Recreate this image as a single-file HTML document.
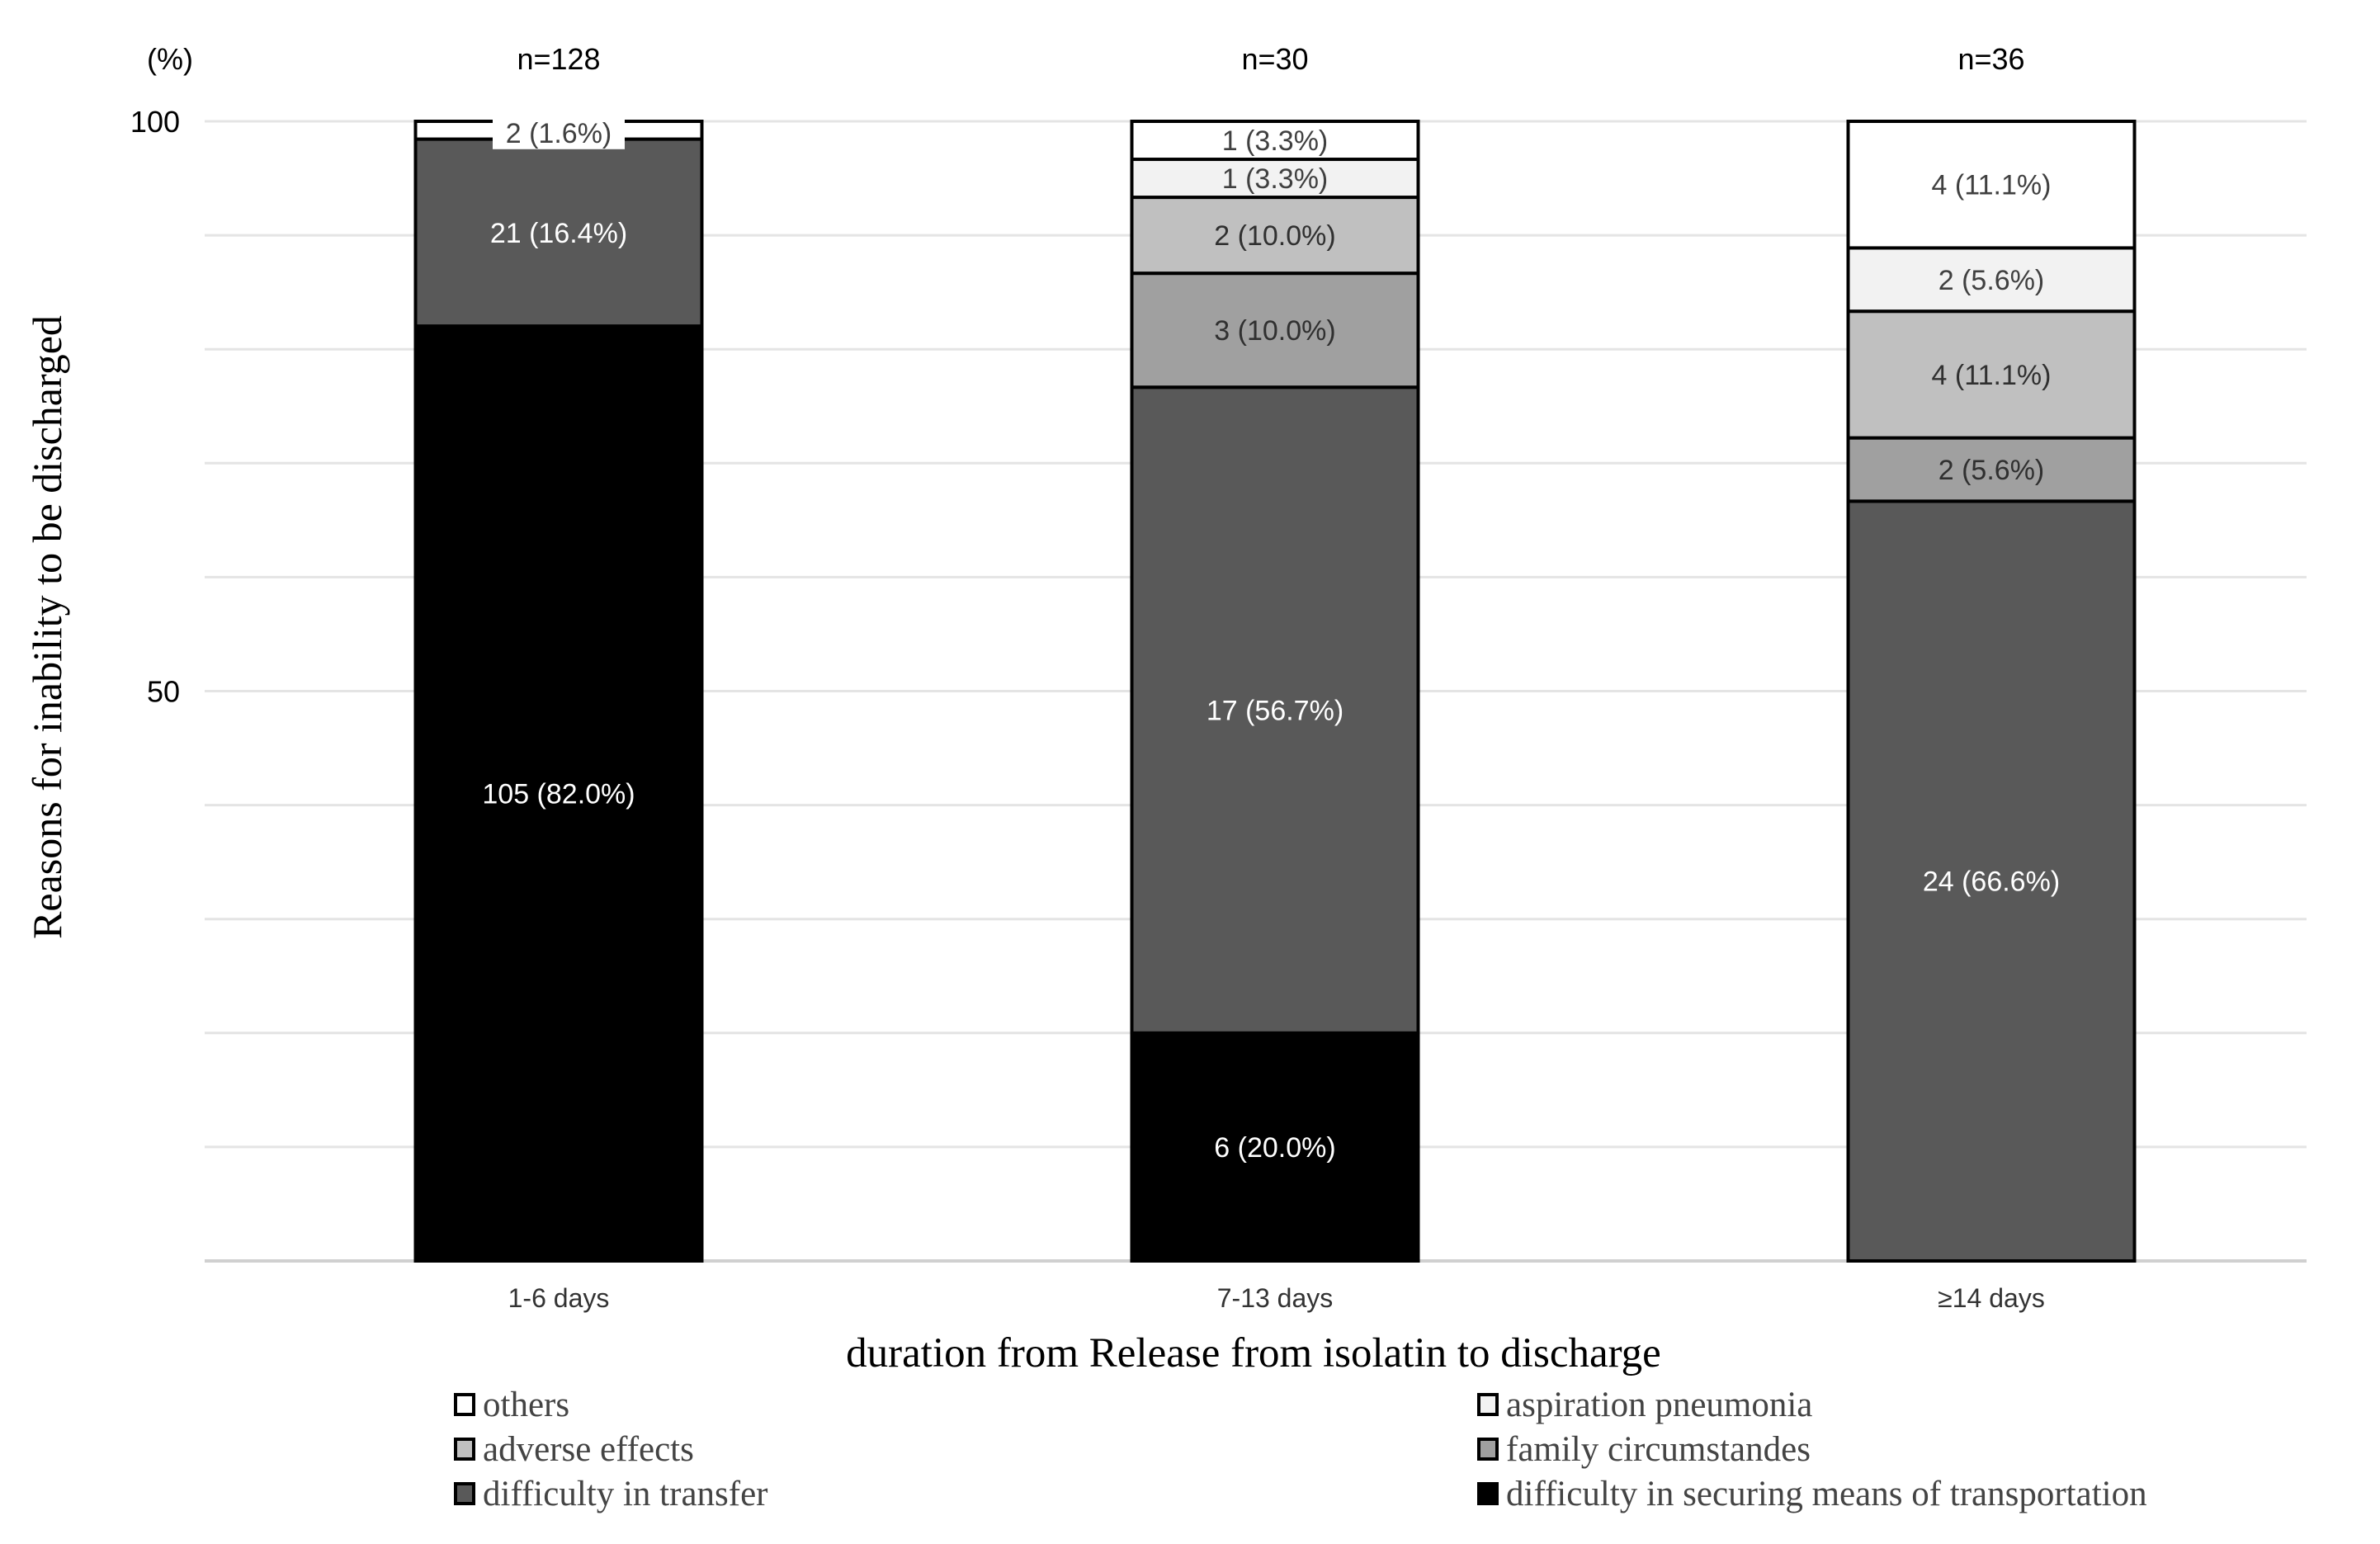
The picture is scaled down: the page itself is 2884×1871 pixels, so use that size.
<!DOCTYPE html>
<html><head><meta charset="utf-8"><style>
html,body{margin:0;padding:0;background:#fff;}
svg{display:block;}
</style></head><body>
<svg id="chart" width="2884" height="1871" xmlns="http://www.w3.org/2000/svg">
<text x="206" y="84" font-family="Liberation Sans, sans-serif" font-size="36" fill="#000" text-anchor="middle">(%)</text>
<text transform="translate(74,760) rotate(-90)" font-family="Liberation Serif, serif" font-size="50" fill="#000" text-anchor="middle">Reasons for inability to be discharged</text>
<text x="1519" y="1656" font-family="Liberation Serif, serif" font-size="51" fill="#000" text-anchor="middle">duration from Release from isolatin to discharge</text>
<g id="grid"></g><g id="bars"></g><g id="legend"></g>
</svg>
<script>
const categories = ["1-6 days", "7-13 days", "≥14 days"];
const totals = [128, 30, 36];
const seriesNames = ["difficulty in securing means of transportation","difficulty in transfer","family circumstandes","adverse effects","aspiration pneumonia","others"];
const transport = [105, 6, 0];
const transfer = [21, 17, 24];
const family = [0, 3, 2];
const adverse = [0, 2, 4];
const aspiration = [0, 1, 2];
const others = [2, 1, 4];
const transportLbl = ["105 (82.0%)", "6 (20.0%)", ""];
const transferLbl = ["21 (16.4%)", "17 (56.7%)", "24 (66.6%)"];
const familyLbl = ["", "3 (10.0%)", "2 (5.6%)"];
const adverseLbl = ["", "2 (10.0%)", "4 (11.1%)"];
const aspirationLbl = ["", "1 (3.3%)", "2 (5.6%)"];
const othersLbl = ["2 (1.6%)", "1 (3.3%)", "4 (11.1%)"];
const yTicks = [0, 50, 100];

const NS = "http://www.w3.org/2000/svg";
const series = [transport, transfer, family, adverse, aspiration, others];
const labels = [transportLbl, transferLbl, familyLbl, adverseLbl, aspirationLbl, othersLbl];
const fills = ["#000000", "#595959", "#a0a0a0", "#c0c0c0", "#f2f2f2", "#ffffff"];
const textFill = ["#fff", "#fff", "#303030", "#303030", "#404040", "#404040"];
const plotL = 248, plotR = 2795, yTop = 147, yBot = 1528;
const y = v => yBot - (v / 100) * (yBot - yTop);
const firstC = 677, step = 868;
const xc = i => firstC + step * i;
const barW = 347;

function mk(tag, attrs, parent) {
  const e = document.createElementNS(NS, tag);
  for (const k in attrs) e.setAttribute(k, attrs[k]);
  parent.appendChild(e);
  return e;
}
const grid = document.getElementById("grid");
for (let v = 0; v <= 100; v += 10) {
  const l = mk("line", {x1: plotL, x2: plotR, y1: y(v), y2: y(v), stroke: v === 0 ? "#d0d0d0" : "#e4e4e4", "stroke-width": v === 0 ? 4 : 3}, grid);
  
  
}
yTicks.forEach(t => {
  if (t === 0) return;
  const tx = mk("text", {x: 218, y: y(t) + 13, "text-anchor": "end", "font-family": "Liberation Sans, sans-serif", "font-size": 36, fill: "#000"}, grid);
  tx.textContent = t;
  
  
});
const bars = document.getElementById("bars");
categories.forEach((c, i) => {
  const g = mk("g", {}, bars);
  
  
  let cum = 0;
  const lbls = [];
  series.forEach((s, k) => {
    const v = s[i] / totals[i] * 100;
    if (s[i] > 0) {
      const r = mk("rect", {x: xc(i) - barW / 2, y: y(cum + v), width: barW, height: y(cum) - y(cum + v), fill: fills[k], stroke: "#000", "stroke-width": 4}, g);
      
      
      lbls.push([k, y(cum + v / 2)]);
    }
    cum += v;
  });
  lbls.forEach(([k, ym]) => {
    const txt = labels[k][i];
    if (!txt) return;
    if (i === 0 && k === 5) {
      ym += 3;
      const bg = mk("rect", {x: xc(i) - 80, y: ym - 20, width: 160, height: 40, fill: "#fff"}, g);
      
      
    }
    const t = mk("text", {x: xc(i), y: ym + 12, "text-anchor": "middle", "font-family": "Liberation Sans, sans-serif", "font-size": 34, fill: textFill[k]}, g);
    t.textContent = txt;
    
    
  });
  const n = mk("text", {x: xc(i), y: 84, "text-anchor": "middle", "font-family": "Liberation Sans, sans-serif", "font-size": 36, fill: "#000"}, g);
  n.textContent = "n=" + totals[i];
  
  
  const xl = mk("text", {x: xc(i), y: 1584, "text-anchor": "middle", "font-family": "Liberation Sans, sans-serif", "font-size": 32, fill: "#333"}, g);
  xl.textContent = c;
  
  
});
const legend = document.getElementById("legend");
const legOrder = [5, 4, 3, 2, 1, 0];
legOrder.forEach((k, j) => {
  const col = j % 2, row = Math.floor(j / 2);
  const lx = col === 0 ? 552 : 1792, ly = 1702 + row * 54;
  const g = mk("g", {}, legend);
  
  
  mk("rect", {x: lx, y: ly - 12, width: 22, height: 24, fill: fills[k], stroke: "#000", "stroke-width": 4}, g);
  const t = mk("text", {x: lx + 33, y: ly + 14, "font-family": "Liberation Serif, serif", "font-size": 43, fill: "#444"}, g);
  t.textContent = seriesNames[k];
});
</script>
</body></html>
